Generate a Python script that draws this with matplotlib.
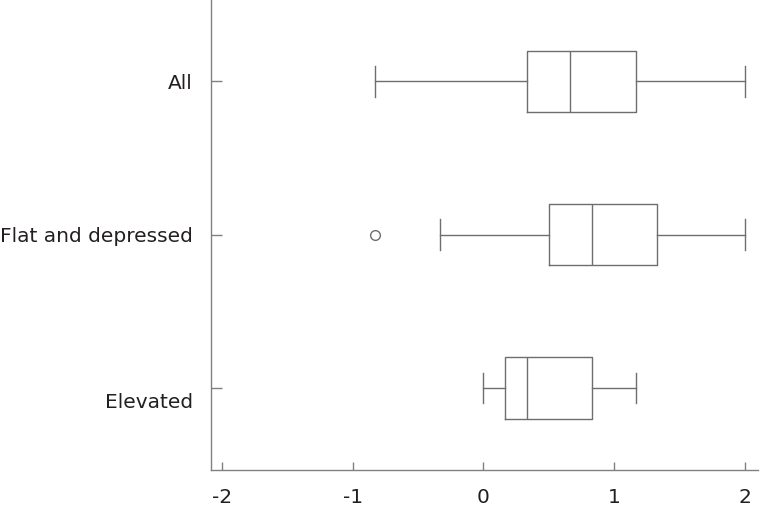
import matplotlib
matplotlib.use("Agg")
import matplotlib.pyplot as plt
from matplotlib.transforms import ScaledTranslation

# groups from bottom to top
groups = ["Elevated", "Flat and depressed", "All"]
whislo = [0.0, -0.333, -0.833]
q1 = [0.167, 0.5, 0.333]
med = [0.333, 0.833, 0.667]
q3 = [0.833, 1.333, 1.167]
whishi = [1.167, 2.0, 2.0]
fliers = [[], [-0.833], []]
xticks = [-2, -1, 0, 1, 2]

stats = []
for i, g in enumerate(groups):
    stats.append(dict(label=g, whislo=whislo[i], q1=q1[i], med=med[i],
                      q3=q3[i], whishi=whishi[i], fliers=fliers[i]))

line_col = "#6e6e6e"
spine_col = "#808080"
text_col = "#231f20"

fig = plt.figure(figsize=(7.7, 5.13), dpi=100)
ax = fig.add_axes([0.274, 0.084, 0.71, 0.916])

lp = dict(color=line_col, linewidth=1.0)
ax.bxp(stats, positions=[1, 2, 3], widths=0.4, vert=False,
       boxprops=lp, whiskerprops=lp, capprops=lp,
       medianprops=lp,
       flierprops=dict(marker="o", markerfacecolor="none",
                       markeredgecolor=line_col, markersize=7,
                       markeredgewidth=1.0))

ax.set_xlim(-2.085, 2.1)
ax.set_ylim(0.466, 3.53)
ax.set_xticks(xticks)
ax.set_xticklabels([str(t) for t in xticks])
ax.set_yticks([1, 2, 3])
ax.set_yticklabels(groups)

for s in ["top", "right"]:
    ax.spines[s].set_visible(False)
for s in ["left", "bottom"]:
    ax.spines[s].set_color(spine_col)
    ax.spines[s].set_linewidth(1.0)

ax.tick_params(axis="x", direction="in", length=6, width=1.0,
               color=spine_col, labelcolor=text_col, labelsize=14.5, pad=13)
ax.tick_params(axis="y", direction="in", length=8, width=1.0,
               color=spine_col, labelcolor=text_col, labelsize=14.5, pad=13)

# the "Elevated" label sits a bit below its tick in the original
lab = ax.get_yticklabels()[0]
lab.set_transform(lab.get_transform() + ScaledTranslation(0, -12 / 100, fig.dpi_scale_trans))

fig.savefig("out.png", dpi=100)
